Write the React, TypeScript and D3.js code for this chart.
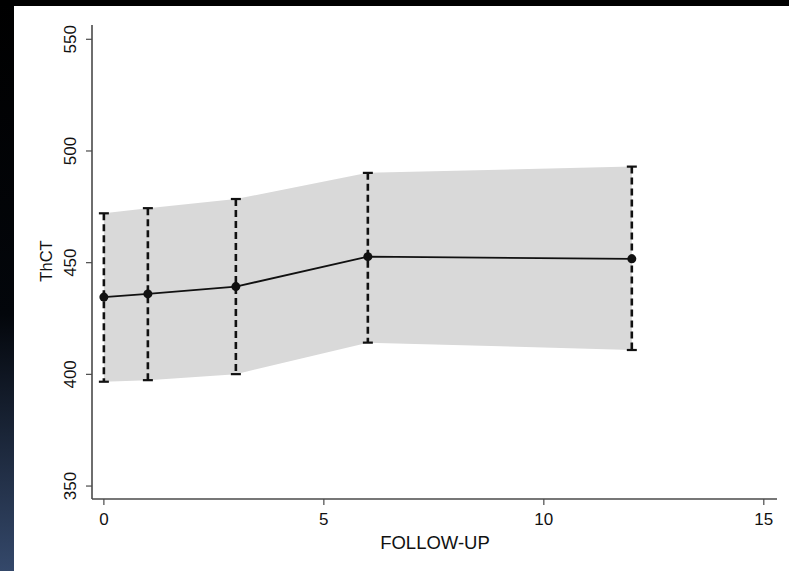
import React, { useEffect } from "react";
import * as d3 from "d3";

// Follow-up months and ThCT summary values
const followUp = [0, 1, 3, 6, 12];
const meanValues = [434.6, 436.0, 439.3, 452.7, 451.7];
const upperValues = [472.1, 474.4, 478.5, 490.2, 493.0];
const lowerValues = [396.7, 397.4, 400.1, 414.2, 410.9];
const xTicks = [0, 5, 10, 15];
const yTicks = [350, 400, 450, 500, 550];

const W = 789;
const H = 571;
const FONT = "'Liberation Sans', Arial, Helvetica, sans-serif";

export default function App() {
  useEffect(() => {
    const root = document.documentElement;
    root.style.background = "#ffffff";
    root.style.overflow = "hidden";
    document.body.style.margin = "0";
    document.body.style.overflow = "hidden";
    document.body.style.background = "#ffffff";
  }, []);

  const x = d3.scaleLinear().domain([-0.27, 15.3]).range([92, 777]);
  const y = d3.scaleLinear().domain([344.2, 556.4]).range([499, 25]);

  const rows = followUp.map((f, i) => ({
    f,
    mean: meanValues[i],
    hi: upperValues[i],
    lo: lowerValues[i],
  }));

  const band = d3
    .area<(typeof rows)[number]>()
    .x((d) => x(d.f))
    .y0((d) => y(d.lo))
    .y1((d) => y(d.hi));

  const line = d3
    .line<(typeof rows)[number]>()
    .x((d) => x(d.f))
    .y((d) => y(d.mean));

  const axisColor = "#4a4a4a";
  const textColor = "#111";
  const [x0, x1] = x.range();
  const [yBottom, yTop] = y.range();

  return (
    <svg
      width={W}
      height={H}
      style={{ position: "fixed", left: 0, top: 0, display: "block" }}
      fontFamily={FONT}
    >
      <defs>
        <linearGradient id="edge" x1="0" y1="0" x2="0" y2="1">
          <stop offset="0" stopColor="#000000" />
          <stop offset="0.55" stopColor="#03060b" />
          <stop offset="1" stopColor="#34486a" />
        </linearGradient>
      </defs>
      <rect x={0} y={0} width={W} height={H} fill="#ffffff" />
      <rect x={0} y={0} width={14} height={H} fill="url(#edge)" />
      <rect x={0} y={0} width={W} height={6} fill="#000000" />

      {/* confidence band */}
      <path d={band(rows) ?? ""} fill="#d9d9d9" />

      {/* axes */}
      <line x1={x0} x2={x0} y1={yTop} y2={yBottom} stroke={axisColor} strokeWidth={1.6} />
      <line x1={x0} x2={x1} y1={yBottom} y2={yBottom} stroke={axisColor} strokeWidth={1.6} />
      {yTicks.map((t) => (
        <g key={`y${t}`}>
          <line x1={x0 - 6} x2={x0} y1={y(t)} y2={y(t)} stroke={axisColor} strokeWidth={1.2} />
          <text
            transform={`translate(76,${y(t)}) rotate(-90)`}
            textAnchor="middle"
            fontSize={17}
            fill={textColor}
          >
            {t}
          </text>
        </g>
      ))}
      {xTicks.map((t) => (
        <g key={`x${t}`}>
          <line x1={x(t)} x2={x(t)} y1={yBottom} y2={yBottom + 6} stroke={axisColor} strokeWidth={1.2} />
          <text x={x(t)} y={525} textAnchor="middle" fontSize={17} fill={textColor}>
            {t}
          </text>
        </g>
      ))}
      <text x={435} y={549} textAnchor="middle" fontSize={18.5} fill={textColor}>
        FOLLOW-UP
      </text>
      <text
        transform={`translate(52,261) rotate(-90)`}
        textAnchor="middle"
        fontSize={16.5}
        fill={textColor}
      >
        ThCT
      </text>

      {/* dashed error bars with caps */}
      {rows.map((d) => (
        <g key={`e${d.f}`} stroke="#111">
          <line
            x1={x(d.f)}
            x2={x(d.f)}
            y1={y(d.hi)}
            y2={y(d.lo)}
            strokeWidth={2.6}
            strokeDasharray="7,4"
          />
          <line x1={x(d.f) - 5} x2={x(d.f) + 5} y1={y(d.hi)} y2={y(d.hi)} strokeWidth={2.2} />
          <line x1={x(d.f) - 5} x2={x(d.f) + 5} y1={y(d.lo)} y2={y(d.lo)} strokeWidth={2.2} />
        </g>
      ))}

      {/* mean line */}
      <path d={line(rows) ?? ""} fill="none" stroke="#111" strokeWidth={1.8} />
      {rows.map((d) => (
        <circle key={`m${d.f}`} cx={x(d.f)} cy={y(d.mean)} r={4.5} fill="#111" />
      ))}
    </svg>
  );
}
